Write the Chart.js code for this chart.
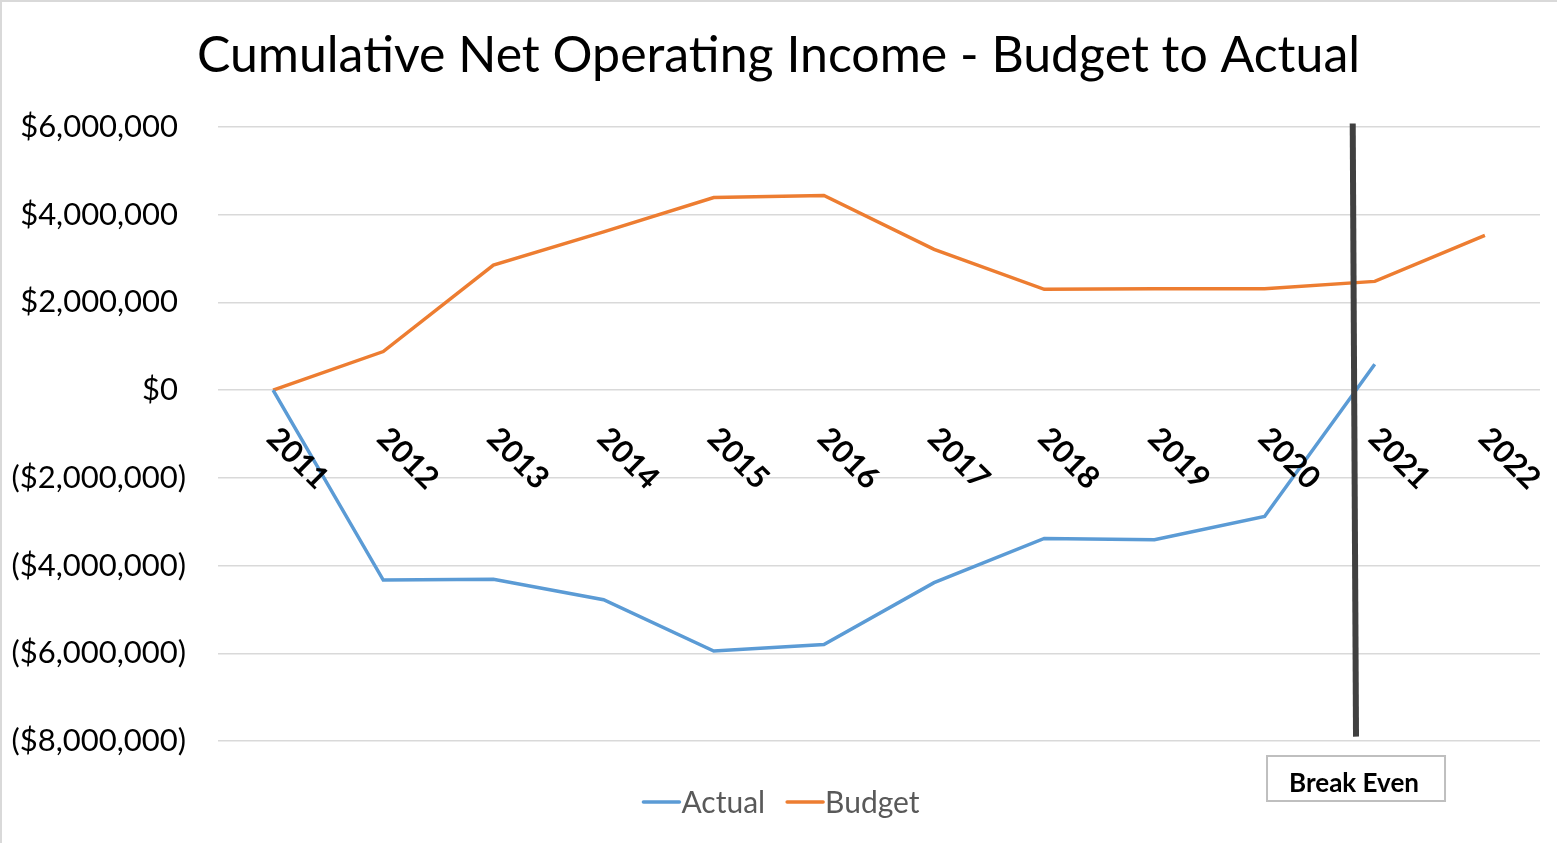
<!DOCTYPE html>
<html><head><meta charset="utf-8">
<script src="https://cdn.jsdelivr.net/npm/chart.js@4/dist/chart.umd.min.js"></script>
<style>html,body{margin:0;padding:0;background:#fff;overflow:hidden}#wrap{width:1557px;height:843px;position:relative}canvas{display:block}</style>
</head><body><div id="wrap"><canvas id="c" width="1557" height="843"></canvas></div>
<script>
const titleText = 'Cumulative Net Operating Income - Budget to Actual';
const years = ['2011','2012','2013','2014','2015','2016','2017','2018','2019','2020','2021','2022'];
const actual = [0, -4330000, -4310000, -4780000, -5950000, -5800000, -4390000, -3380000, -3410000, -2880000, 590000, null];
const budget = [0, 880000, 2850000, 3610000, 4390000, 4440000, 3210000, 2300000, 2310000, 2310000, 2480000, 3530000];
const yTicks = [6000000, 4000000, 2000000, 0, -2000000, -4000000, -6000000, -8000000];
const seriesNames = ['Actual', 'Budget'];
const seriesColors = ['#5B9BD5', '#ED7D31'];
const breakEvenX = [9.80, 9.83];       // category index positions (top, bottom)
const breakEvenY = [6080000, -7900000]; // value positions (top, bottom)
const breakEvenLabel = 'Break Even';

const FONT = 'Lato, "Open Sans", sans-serif';

function fmtMoney(v) {
  const s = '$' + Math.abs(v).toLocaleString('en-US');
  return v < 0 ? '(' + s + ')' : s + ' ';
}

const extras = {
  id: 'extras',
  beforeDraw(chart) {
    const ctx = chart.ctx;
    ctx.save();
    ctx.fillStyle = '#fff';
    ctx.fillRect(0, 0, chart.width, chart.height);
    ctx.strokeStyle = '#d9d9d9';
    ctx.lineWidth = 2;
    ctx.beginPath();
    ctx.moveTo(1, chart.height); ctx.lineTo(1, 1); ctx.lineTo(chart.width, 1);
    ctx.stroke();
    ctx.restore();
  },
  afterDatasetsDraw(chart) {
    const ctx = chart.ctx;
    const xs = chart.scales.x, ys = chart.scales.y;
    const area = chart.chartArea;
    ctx.save();
    // x category labels, rotated, placed just below the zero line
    ctx.fillStyle = '#000';
    ctx.font = 'bold 31px ' + FONT;
    ctx.textAlign = 'left';
    ctx.textBaseline = 'middle';
    const y0 = ys.getPixelForValue(0);
    years.forEach((lab, i) => {
      const px = xs.getPixelForValue(i);
      ctx.save();
      ctx.translate(px - 1, y0 + 43);
      ctx.rotate(Math.PI / 4);
      ctx.fillText(lab, 0, 0);
      ctx.restore();
    });
    // break-even line
    ctx.strokeStyle = '#404040';
    ctx.lineWidth = 6;
    ctx.lineCap = 'butt';
    ctx.beginPath();
    ctx.moveTo(xs.getPixelForValue(breakEvenX[0]), ys.getPixelForValue(breakEvenY[0]));
    ctx.lineTo(xs.getPixelForValue(breakEvenX[1]), ys.getPixelForValue(breakEvenY[1]));
    ctx.stroke();
    // break-even label box
    const cx = xs.getPixelForValue(breakEvenX[1]);
    const bw = 178, bh = 45;
    const bx = cx - bw / 2, by = area.bottom + 15;
    ctx.fillStyle = '#fff';
    ctx.fillRect(bx, by, bw, bh);
    ctx.strokeStyle = '#bfbfbf';
    ctx.lineWidth = 2;
    ctx.strokeRect(bx, by, bw, bh);
    ctx.fillStyle = '#000';
    ctx.font = 'bold 26px ' + FONT;
    ctx.textAlign = 'center';
    ctx.textBaseline = 'middle';
    ctx.fillText(breakEvenLabel, cx - 2, by + bh / 2 + 5);
    // legend
    ctx.font = '30px ' + FONT;
    ctx.textBaseline = 'middle';
    ctx.textAlign = 'left';
    const sw = 36, gap = 2, itemGap = 22;
    const widths = seriesNames.map(n => sw + gap + ctx.measureText(n).width);
    const total = widths.reduce((a, b) => a + b, 0) + itemGap * (widths.length - 1);
    let lx = chart.width / 2 + 3 - total / 2;
    const ly = 802;
    seriesNames.forEach((n, i) => {
      ctx.strokeStyle = seriesColors[i];
      ctx.lineWidth = 3.5;
      ctx.lineCap = 'round';
      ctx.beginPath(); ctx.moveTo(lx, ly); ctx.lineTo(lx + sw, ly); ctx.stroke();
      ctx.fillStyle = '#595959';
      ctx.fillText(n, lx + sw + gap, ly + 1);
      lx += widths[i] + itemGap;
    });
    ctx.restore();
  }
};

new Chart(document.getElementById('c'), {
  type: 'line',
  data: {
    labels: years,
    datasets: [
      { label: seriesNames[0], data: actual, borderColor: seriesColors[0], backgroundColor: seriesColors[0], borderWidth: 3.5, pointRadius: 0, tension: 0, spanGaps: false },
      { label: seriesNames[1], data: budget, borderColor: seriesColors[1], backgroundColor: seriesColors[1], borderWidth: 3.5, pointRadius: 0, tension: 0 }
    ]
  },
  options: {
    responsive: false,
    animation: false,
    events: [],
    layout: { padding: { left: 0, right: 0, top: 0, bottom: 102 } },
    plugins: {
      legend: { display: false },
      tooltip: { enabled: false },
      title: {
        display: true,
        text: titleText,
        color: '#000',
        font: { family: FONT, size: 50, weight: 'normal', lineHeight: 1.2 },
        padding: { top: 26, bottom: 41 }
      }
    },
    scales: {
      x: {
        type: 'category',
        offset: true,
        display: false,
        grid: { display: false }
      },
      y: {
        min: -8000000,
        max: 6000000,
        afterBuildTicks: s => { s.ticks = yTicks.map(v => ({ value: v })); },
        afterFit: s => { s.width = 218; },
        border: { display: false },
        grid: { color: '#d9d9d9', lineWidth: 1.5, drawTicks: false },
        ticks: {
          color: '#000',
          padding: 32,
          font: { family: FONT, size: 31 },
          callback: v => fmtMoney(v)
        }
      },
      yRight: {
        position: 'right',
        display: true,
        min: -8000000,
        max: 6000000,
        afterFit: s => { s.width = 17; },
        border: { display: false },
        grid: { display: false, drawTicks: false },
        ticks: { display: false }
      }
    }
  },
  plugins: [extras]
});
</script></body></html>
